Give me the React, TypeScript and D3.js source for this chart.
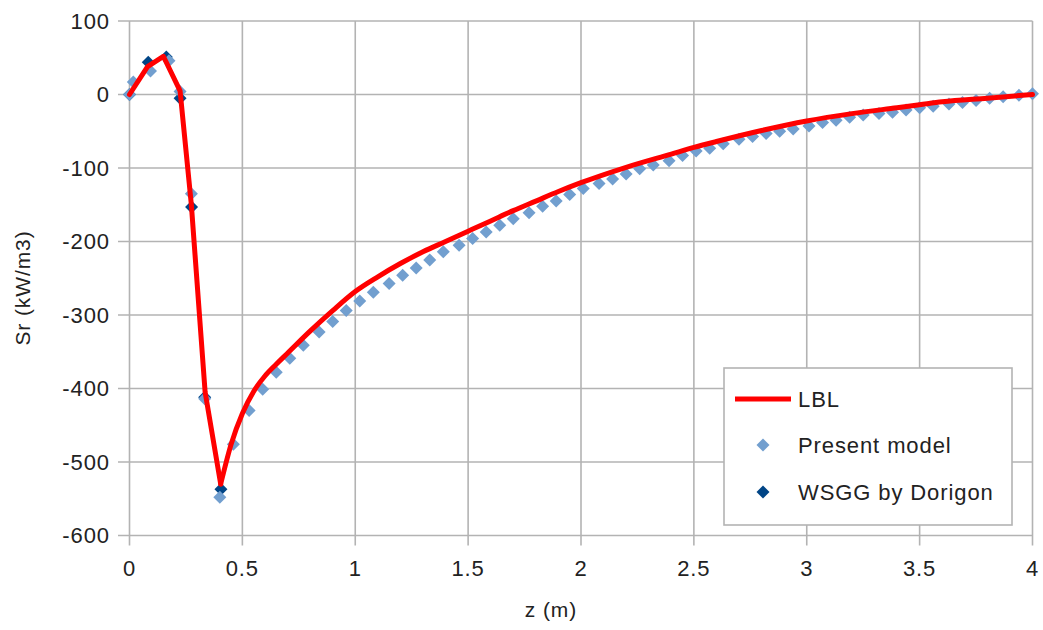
import React from "react";
import * as d3 from "d3";

const xTicks = [0, 0.5, 1, 1.5, 2, 2.5, 3, 3.5, 4];
const xTickLabels = ["0", "0.5", "1", "1.5", "2", "2.5", "3", "3.5", "4"];
const yTicks = [100, 0, -100, -200, -300, -400, -500, -600];
const yTickLabels = ["100", "0", "-100", "-200", "-300", "-400", "-500", "-600"];

// LBL (red line): sharp part, then smooth part starting at the minimum
const lblZ = [0, 0.08, 0.15, 0.224, 0.274, 0.335, 0.404, 0.45, 0.5, 0.55, 0.6, 0.65, 0.7, 0.8, 0.9, 1.0, 1.1, 1.2, 1.3, 1.4, 1.5, 1.6, 1.7, 1.8, 1.9, 2.0, 2.2, 2.4, 2.5, 2.6, 2.8, 3.0, 3.2, 3.4, 3.5, 3.6, 3.8, 4.0];
const lblV = [0, 38, 52, 5, -150, -405, -530, -476, -434, -404, -383, -367, -352, -322, -294, -268, -248, -230, -214, -200, -186, -172, -158, -145, -132, -120, -99, -81, -72, -64, -49, -36, -26, -18, -14, -10, -5, 0];
const lblSmoothFrom = 6;

// Present model (light blue diamonds)
const modelZ = [0, 0.017, 0.093, 0.175, 0.224, 0.274, 0.333, 0.40, 0.46, 0.53, 0.59, 0.65, 0.71, 0.77, 0.84, 0.90, 0.96, 1.02, 1.08, 1.15, 1.21, 1.27, 1.33, 1.39, 1.46, 1.52, 1.58, 1.64, 1.70, 1.77, 1.83, 1.89, 1.95, 2.01, 2.08, 2.14, 2.20, 2.26, 2.32, 2.39, 2.45, 2.51, 2.57, 2.63, 2.70, 2.76, 2.82, 2.88, 2.94, 3.01, 3.07, 3.13, 3.19, 3.25, 3.32, 3.38, 3.44, 3.50, 3.56, 3.63, 3.69, 3.75, 3.81, 3.87, 3.94, 4.00];
const modelV = [0, 17, 32, 46, 4, -135, -414, -548, -476, -430, -401, -378, -359, -341, -323, -309, -294, -281, -269, -257, -246, -236, -225, -214, -205, -196, -187, -178, -169, -161, -152, -145, -136, -128, -121, -115, -108, -101, -96, -90, -83, -77, -73, -67, -61, -57, -53, -50, -47, -43, -38, -35, -31, -28, -26, -24, -21, -18, -16, -13, -11, -8, -5, -3, -1, 1];

// WSGG by Dorigon (dark blue diamonds)
const wsggZ = [0, 0.083, 0.163, 0.224, 0.275, 0.333, 0.405];
const wsggV = [0, 44, 51, -5, -153, -412, -537];

const legendLabels = ["LBL", "Present model", "WSGG by Dorigon"];

const W = 1043;
const H = 630;
const FONT = "'Liberation Sans', Arial, sans-serif";
const GRID = "#b3b3b3";
const TEXT = "#222";
const RED = "#ff0000";
const LIGHT = "#729fcf";
const DARK = "#004586";

function diamond(cx: number, cy: number, r: number) {
  return `M${cx},${cy - r}L${cx + r},${cy}L${cx},${cy + r}L${cx - r},${cy}Z`;
}

export default function App() {
  const x = d3.scaleLinear().domain([0, 4]).range([129.5, 1032.5]);
  const y = d3.scaleLinear().domain([-600, 100]).range([535.5, 21]);
  const pts: [number, number][] = lblZ.map((z, i) => [x(z), y(lblV[i])]);
  const sharp = d3.line().curve(d3.curveLinear)(pts.slice(0, lblSmoothFrom + 1)) || "";
  const smooth = d3.line().curve(d3.curveMonotoneX)(pts.slice(lblSmoothFrom)) || "";

  const R = 6.5;
  const lx = 724, ly = 368, lw = 288, lh = 157;
  const LS = 0.9;

  return (
    <svg
      width={W}
      height={H}
      style={{ position: "absolute", left: 0, top: 0, background: "#fff" }}
      fontFamily={FONT}
    >
      <rect x={0} y={0} width={W} height={H} fill="#fff" />
      {/* grid */}
      {yTicks.map((t) => (
        <line key={"gy" + t} x1={118} x2={x(4)} y1={y(t)} y2={y(t)} stroke={GRID} strokeWidth={1.6} />
      ))}
      {xTicks.map((t) => (
        <line key={"gx" + t} x1={x(t)} x2={x(t)} y1={y(100)} y2={y(-600) + 10} stroke={GRID} strokeWidth={1.6} />
      ))}
      {/* tick labels */}
      {yTicks.map((t, i) => (
        <text key={"ty" + t} x={110} y={y(t)} dy="0.36em" textAnchor="end" fontSize={22} letterSpacing={LS} fill={TEXT}>
          {yTickLabels[i]}
        </text>
      ))}
      {xTicks.map((t, i) => (
        <text key={"tx" + t} x={x(t)} y={576} textAnchor="middle" fontSize={22} letterSpacing={LS} fill={TEXT}>
          {xTickLabels[i]}
        </text>
      ))}
      {/* axis titles */}
      <text x={551} y={617} textAnchor="middle" fontSize={21} letterSpacing={LS} fill={TEXT}>
        z (m)
      </text>
      <text transform={`translate(30,288) rotate(-90)`} textAnchor="middle" fontSize={21} letterSpacing={LS} fill={TEXT}>
        Sr (kW/m3)
      </text>
      {/* series */}
      {wsggZ.map((z, i) => (
        <path key={"w" + i} d={diamond(x(z), y(wsggV[i]), R)} fill={DARK} />
      ))}
      {modelZ.map((z, i) => (
        <path key={"m" + i} d={diamond(x(z), y(modelV[i]), R)} fill={LIGHT} />
      ))}
      <path d={sharp} fill="none" stroke={RED} strokeWidth={5} strokeLinejoin="round" strokeLinecap="round" />
      <path d={smooth} fill="none" stroke={RED} strokeWidth={5} strokeLinejoin="round" strokeLinecap="round" />
      {/* legend */}
      <rect x={lx} y={ly} width={lw} height={lh} fill="#fff" stroke={GRID} strokeWidth={1.6} />
      <line x1={735} x2={791} y1={399} y2={399} stroke={RED} strokeWidth={5} />
      <path d={diamond(763, 445, R)} fill={LIGHT} />
      <path d={diamond(763, 492, R)} fill={DARK} />
      {legendLabels.map((l, i) => (
        <text key={l} x={798} y={399 + i * 46.5} dy="0.36em" fontSize={22} letterSpacing={LS} fill={TEXT}>
          {l}
        </text>
      ))}
    </svg>
  );
}
